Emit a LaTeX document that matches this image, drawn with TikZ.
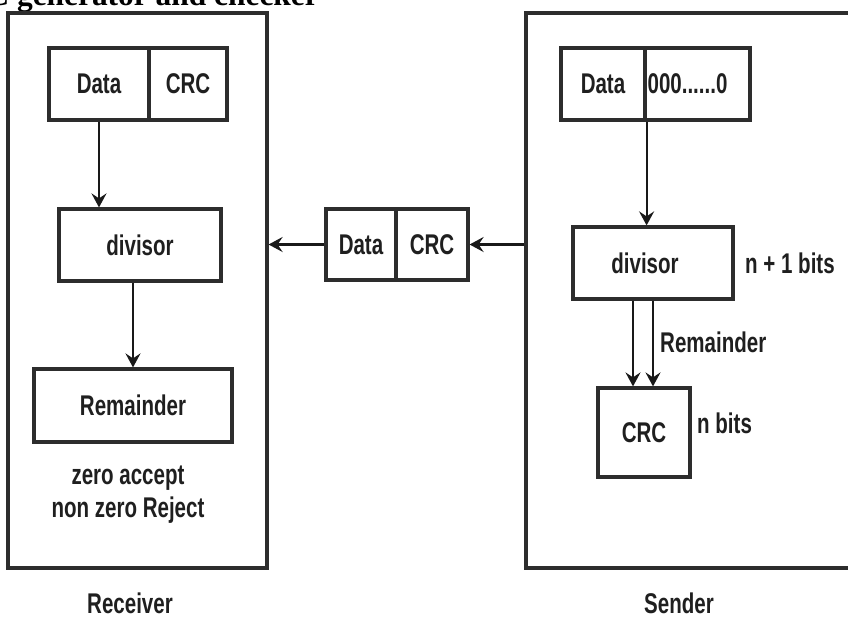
\documentclass[tikz,border=0pt]{standalone}
\usepackage{fontspec}
\setmainfont{Liberation Serif}
\newfontfamily\crcsans{Liberation Sans}[FakeStretch=0.72]
\usepackage{tikz}
\usetikzlibrary{arrows.meta}
\usepackage{xcolor}
\definecolor{edge}{RGB}{45,45,45}

\begin{document}
\begin{tikzpicture}[x=1pt,y=-1pt,
		lbl/.style={font=\crcsans\bfseries\fontsize{28.5}{33}\selectfont, text=black!88},
		box/.style={draw=edge, line width=3.2pt, inner sep=0pt, lbl},
		frame/.style={draw=edge, line width=3.2pt, inner sep=0pt},
		arr/.style={draw=black!90, line width=2.2pt, -{Stealth[length=14pt,width=15pt,inset=5pt]}}]
		\useasboundingbox (0,0) rectangle (848,619);
		\clip (0,0) rectangle (848,619); % the title is cut by the page edge

		\node[anchor=base west, inner sep=0pt, font=\bfseries\fontsize{31.4}{36}\selectfont] (title) at (-59,5.5) {CRC generator and checker};

		% Receiver side
		\node[frame, minimum width=259, minimum height=555] (rx) at (137.5,290.5) {};
		\node[box, minimum width=100, minimum height=72] (rdata) at (99,84) {Data};
		\node[box, minimum width=78, minimum height=72] (rcrc) at (188,84) {CRC};
		\node[box, minimum width=162, minimum height=72] (rdiv) at (140,245) {divisor};
		\node[box, minimum width=198, minimum height=73] (rrem) at (133,405.5) {Remainder};
		\node[lbl, align=center] (rtest) at (128,495) {zero accept\\non zero Reject};
		\node[lbl] (rname) at (130,603) {Receiver};
		\draw[arr] (rdata.south) -- (rdata.south |- rdiv.north);
		\draw[arr] (rrem.north |- rdiv.south) -- (rrem.north);

		% Frame on the wire
		\node[box, minimum width=70, minimum height=71] (mdata) at (361,244.5) {Data};
		\node[box, minimum width=72, minimum height=71] (mcrc) at (432,244.5) {CRC};

		% Sender side
		\node[frame, minimum width=334, minimum height=555] (sx) at (693,290.5) {};
		\node[box, minimum width=84, minimum height=72] (sdata) at (603,84) {Data};
		\node[box, minimum width=105, minimum height=72,
		      label={[lbl, anchor=west, inner sep=4pt]west:000......0}] (szero) at (697.5,84) {};
		\node[box, minimum width=160, minimum height=72] (sdiv) at (653,263) {divisor\hspace*{16pt}};
		\node[box, minimum width=92, minimum height=89] (scrc) at (644,432.5) {CRC};
		\node[lbl, anchor=west, inner sep=0pt] (sdivw) at (745,263) {n + 1 bits};
		\node[lbl, anchor=west, inner sep=0pt] (srem) at (660,342) {Remainder};
		\node[lbl, anchor=west, inner sep=0pt] (scrcw) at (697,423) {n bits};
		\node[lbl] (sname) at (679,603) {Sender};
		\draw[arr] (sdata.south east) -- (sdata.south east |- sdiv.north);
		\draw[arr] ([xshift=-11pt]scrc.north |- sdiv.south) -- ([xshift=-11pt]scrc.north);
		\draw[arr] ([xshift=9pt]scrc.north |- sdiv.south) -- ([xshift=9pt]scrc.north);

		% sender -> wire -> receiver
		\draw[arr] (sx.west |- mcrc.east) -- (mcrc.east);
		\draw[arr] (mdata.west) -- (mdata.west -| rx.east);
	  \end{tikzpicture}
\end{document}
